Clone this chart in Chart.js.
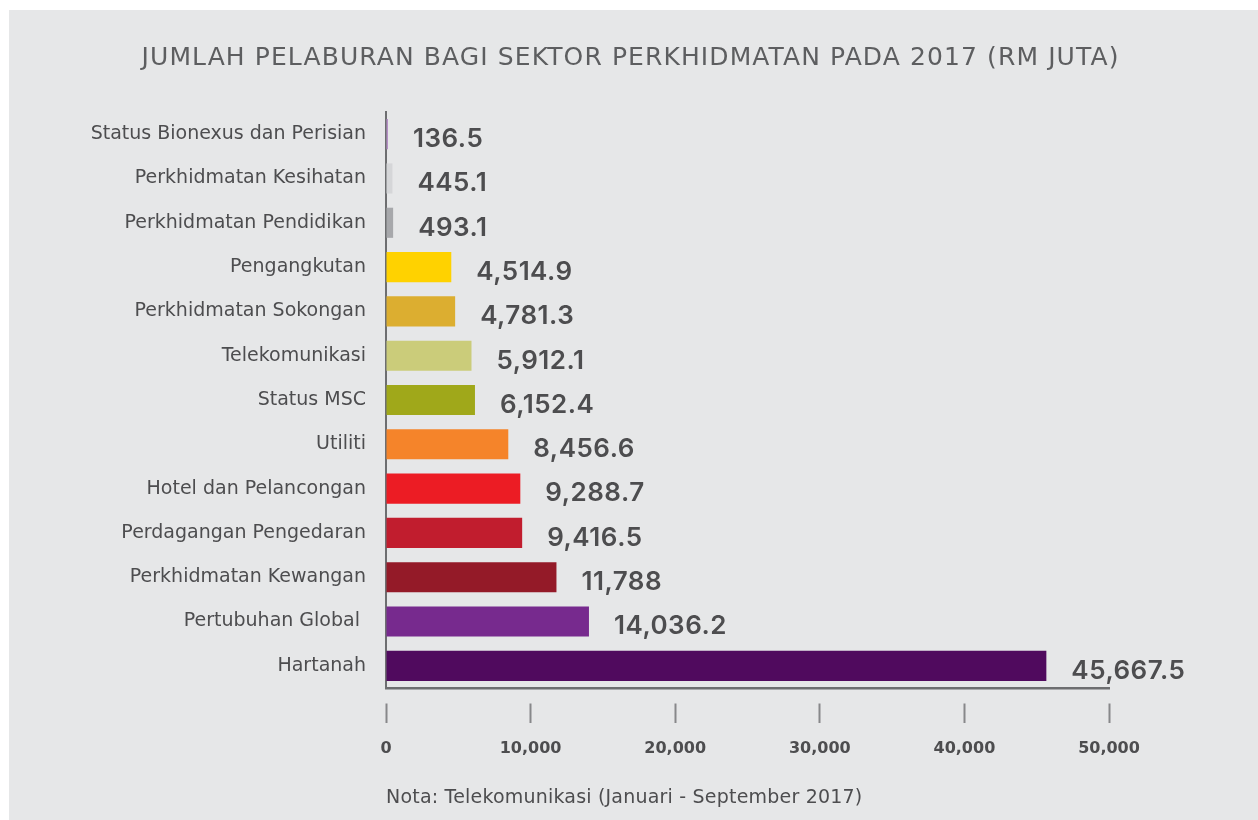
<!DOCTYPE html>
<html>
<head>
<meta charset="utf-8">
<title>Jumlah Pelaburan Sektor Perkhidmatan 2017</title>
<script src="https://cdn.jsdelivr.net/npm/chart.js@4"></script>
<style>
  html, body { margin: 0; padding: 0; background: #ffffff; }
  #wrap { position: absolute; left: 9px; top: 10px; width: 1249px; height: 810px; background: #e6e7e8; }
</style>
</head>
<body>
<div id="wrap"><canvas id="pelaburan-chart" width="1249" height="810"></canvas></div>
<script>
// Data pelaburan (RM juta) mengikut sektor
const sektor = [
    "Status Bionexus dan Perisian",
    "Perkhidmatan Kesihatan",
    "Perkhidmatan Pendidikan",
    "Pengangkutan",
    "Perkhidmatan Sokongan",
    "Telekomunikasi",
    "Status MSC",
    "Utiliti",
    "Hotel dan Pelancongan",
    "Perdagangan Pengedaran",
    "Perkhidmatan Kewangan",
    "Pertubuhan Global ",
    "Hartanah"
];
const pelaburan = [136.5, 445.1, 493.1, 4514.9, 4781.3, 5912.1, 6152.4, 8456.6, 9288.7, 9416.5, 11788, 14036.2, 45667.5];
const warnaBar = [
    "#b48dc5", "#d5d6d8", "#a7a8ab", "#ffd200", "#dcae30", "#cbcc7a", "#a0a81a",
    "#f5842a", "#ec1c24", "#c11d2e", "#941a28", "#772a8e", "#500a5e"
];
const tickPaksiX = [0, 10000, 20000, 30000, 40000, 50000];
const tajuk = "JUMLAH PELABURAN BAGI SEKTOR PERKHIDMATAN PADA 2017 (RM JUTA)";
const notaTeks = "Nota: Telekomunikasi (Januari - September 2017)";

function formatNilai(n) {
    return n.toLocaleString("en-US", { maximumFractionDigits: 1 });
}

// Tajuk dengan jarak huruf, di tengah kanvas
const tajukCarta = {
    id: "tajukCarta",
    afterDraw(chart) {
        const ctx = chart.ctx;
        ctx.save();
        ctx.font = '25px "DejaVu Sans"';
        ctx.letterSpacing = "1.1px";
        ctx.fillStyle = "#5d5e60";
        ctx.textAlign = "center";
        ctx.textBaseline = "middle";
        ctx.fillText(tajuk, chart.width / 2 - 3, 48);
        ctx.restore();
    }
};

// Label nilai di hujung setiap bar
const labelNilai = {
    id: "labelNilai",
    afterDatasetsDraw(chart) {
        const ctx = chart.ctx;
        const meta = chart.getDatasetMeta(0);
        ctx.save();
        ctx.font = '600 26px Inter, "DejaVu Sans"';
        ctx.letterSpacing = "0.5px";
        ctx.fillStyle = "#4d4d4f";
        ctx.textAlign = "left";
        ctx.textBaseline = "middle";
        meta.data.forEach((bar, i) => {
            ctx.fillText(formatNilai(pelaburan[i]), bar.x + 25, bar.y + 5);
        });
        ctx.restore();
    }
};

// Nota di bawah paksi
const nota = {
    id: "nota",
    afterDraw(chart) {
        const ctx = chart.ctx;
        ctx.save();
        ctx.font = '19px "DejaVu Sans"';
        ctx.letterSpacing = "0.2px";
        ctx.fillStyle = "#4d4d4f";
        ctx.textAlign = "left";
        ctx.textBaseline = "middle";
        ctx.fillText(notaTeks, chart.chartArea.left, 788);
        ctx.restore();
    }
};

const ctx = document.getElementById("pelaburan-chart").getContext("2d");
new Chart(ctx, {
    type: "bar",
    data: {
        labels: sektor,
        datasets: [{
            data: pelaburan,
            backgroundColor: warnaBar,
            borderWidth: 0,
            barPercentage: 0.68,
            categoryPercentage: 1
        }]
    },
    options: {
        indexAxis: "y",
        responsive: false,
        animation: false,
        layout: { padding: { top: 102, right: 149, bottom: 0, left: 0 } },
        plugins: {
            legend: { display: false },
            tooltip: { enabled: false },
            title: { display: false }
        },
        scales: {
            x: {
                type: "linear",
                position: "bottom",
                min: 0,
                max: 50000,
                afterBuildTicks(scale) {
                    scale.ticks = tickPaksiX.map(v => ({ value: v }));
                },
                afterFit(scale) {
                    scale.height = 132;
                },
                ticks: {
                    color: "#4d4d4f",
                    font: { family: "DejaVu Sans", size: 16, weight: "bold" },
                    padding: 16
                },
                grid: {
                    drawOnChartArea: false,
                    drawTicks: true,
                    tickLength: 35,
                    tickColor: "#87888a",
                    tickWidth: 2,
                    tickBorderDash: [0, 14, 21, 100]
                },
                border: { display: true, color: "#6d6e70", width: 2.5 }
            },
            y: {
                position: "left",
                z: 1,
                afterFit(scale) {
                    scale.width = 377;
                },
                ticks: {
                    color: "#4d4d4f",
                    font: { family: "DejaVu Sans", size: 19 },
                    padding: 20
                },
                grid: { drawOnChartArea: false, drawTicks: false },
                border: { display: true, color: "#6d6e70", width: 2 }
            }
        }
    },
    plugins: [tajukCarta, labelNilai, nota]
});
</script>
</body>
</html>
